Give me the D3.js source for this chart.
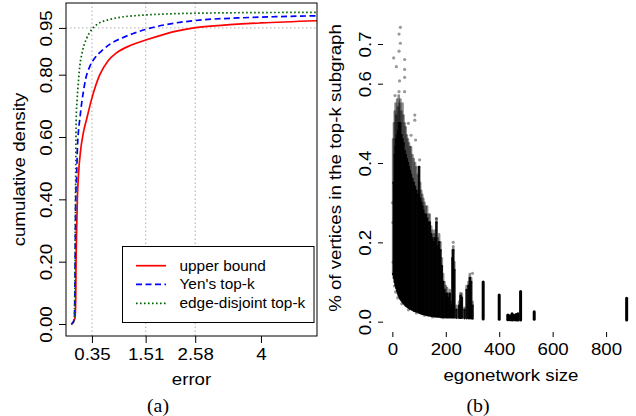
<!doctype html>
<html>
<head>
<meta charset="utf-8">
<title>CDF of error and top-k subgraph share</title>
<style type="text/css">
body { margin: 0; background: #fff; }
svg { display: block; }
text { font-family: "Liberation Sans", Arial, Helvetica, sans-serif; fill: #000; }
.cap { font-family: "Liberation Serif", "Times New Roman", serif; }
</style>
<script src="https://cdnjs.cloudflare.com/ajax/libs/d3/7.8.5/d3.min.js"></script>
</head>
<body>
<script type="text/javascript">
// ---- panel (a): cumulative density of the error ----
var xTicksA = [0.35, 1.51, 2.58, 4];
var xTickLabelsA = ["0.35", "1.51", "2.58", "4"];
var yTicksA = [0, 0.2, 0.4, 0.6, 0.8, 0.95];
var yTickLabelsA = ["0.00", "0.20", "0.40", "0.60", "0.80", "0.95"];
var gridXA = [0.35, 1.51, 2.58];
var gridYA = [0.95];

var seriesNames = ["upper bound", "Yen's top-k", "edge-disjoint top-k"];

var errUpper = [-0.10, -0.06, -0.015, 0.0, 0.006, 0.02, 0.035, 0.06, 0.1, 0.16, 0.24, 0.34, 0.52, 0.7, 0.88, 1.2, 1.53, 2.17, 2.59, 3.2, 4.0, 5.21];
var cdfUpper = [0, 0.004, 0.02, 0.08, 0.18, 0.30, 0.40, 0.48, 0.55, 0.61, 0.66, 0.72, 0.80, 0.845, 0.87, 0.895, 0.912, 0.940, 0.951, 0.959, 0.966, 0.973];

var errYen = [-0.10, -0.06, -0.03, -0.02, -0.01, 0.0, 0.02, 0.035, 0.06, 0.09, 0.13, 0.17, 0.22, 0.3, 0.42, 0.55, 0.74, 1.0, 1.24, 1.5, 1.96, 2.67, 3.5, 4.3, 5.21];
var cdfYen = [0, 0.004, 0.02, 0.08, 0.25, 0.40, 0.48, 0.56, 0.62, 0.66, 0.71, 0.75, 0.79, 0.825, 0.855, 0.875, 0.898, 0.918, 0.932, 0.945, 0.961, 0.975, 0.982, 0.986, 0.989];

var errDisj = [-0.10, -0.06, -0.03, -0.02, -0.01, 0.0, 0.01, 0.03, 0.06, 0.09, 0.13, 0.18, 0.24, 0.3, 0.38, 0.5, 0.7, 1.0, 1.45, 2.0, 3.0, 5.21];
var cdfDisj = [0, 0.004, 0.02, 0.10, 0.30, 0.50, 0.66, 0.72, 0.78, 0.83, 0.865, 0.895, 0.918, 0.935, 0.951, 0.965, 0.976, 0.985, 0.991, 0.995, 0.998, 1.0];

// ---- panel (b): share of vertices vs egonetwork size ----
var xTicksB = [0, 200, 400, 600, 800];
var yTicksB = [0, 0.2, 0.4, 0.6, 0.7];
var yTickLabelsB = ["0.0", "0.2", "0.4", "0.6", "0.7"];

// dense part: for each size, lowest value, top of the solid black part, highest value
var egoX    = [3, 6, 9, 12, 15, 18, 21, 24, 27, 30, 34, 38, 42, 46, 50, 54, 58, 62, 66, 70, 75, 80, 85, 90, 95, 100, 104, 108, 112, 116, 120, 125, 130, 135, 140, 145, 150, 155, 160, 165, 170, 175, 180, 185, 190, 195, 200, 205, 210, 215, 220, 225, 228, 232, 240, 250, 255, 260, 270, 278, 285, 290, 295, 300];
var egoLow  = [0.12, 0.11, 0.10, 0.092, 0.085, 0.078, 0.072, 0.066, 0.062, 0.058, 0.054, 0.050, 0.047, 0.044, 0.041, 0.039, 0.037, 0.035, 0.033, 0.032, 0.030, 0.028, 0.027, 0.026, 0.025, 0.023, 0.022, 0.021, 0.020, 0.020, 0.019, 0.018, 0.017, 0.016, 0.016, 0.015, 0.015, 0.014, 0.014, 0.013, 0.013, 0.013, 0.012, 0.012, 0.012, 0.012, 0.011, 0.011, 0.011, 0.011, 0.011, 0.011, 0.011, 0.011, 0.010, 0.010, 0.010, 0.010, 0.009, 0.009, 0.009, 0.009, 0.009, 0.008];
var egoCore = [0.12, 0.35, 0.42, 0.44, 0.46, 0.47, 0.48, 0.50, 0.49, 0.50, 0.47, 0.46, 0.45, 0.43, 0.42, 0.41, 0.40, 0.39, 0.38, 0.37, 0.36, 0.35, 0.34, 0.33, 0.32, 0.39, 0.31, 0.30, 0.29, 0.28, 0.27, 0.27, 0.26, 0.25, 0.25, 0.22, 0.21, 0.20, 0.21, 0.25, 0.19, 0.20, 0.18, 0.14, 0.10, 0.08, 0.07, 0.07, 0.06, 0.07, 0.04, 0.16, 0.18, 0.13, 0.03, 0.04, 0.065, 0.06, 0.03, 0.08, 0.09, 0.11, 0.10, 0.04];
var egoHigh = [0.46, 0.50, 0.53, 0.55, 0.52, 0.56, 0.54, 0.57, 0.55, 0.56, 0.53, 0.55, 0.52, 0.50, 0.49, 0.47, 0.46, 0.45, 0.44, 0.44, 0.42, 0.41, 0.40, 0.39, 0.37, 0.39, 0.35, 0.33, 0.32, 0.31, 0.30, 0.29, 0.29, 0.27, 0.27, 0.24, 0.23, 0.22, 0.23, 0.26, 0.21, 0.22, 0.20, 0.16, 0.12, 0.10, 0.09, 0.085, 0.07, 0.08, 0.05, 0.18, 0.19, 0.15, 0.04, 0.05, 0.072, 0.07, 0.035, 0.09, 0.10, 0.12, 0.11, 0.05];

// isolated streaks at larger sizes
var farX    = [340, 400, 432, 440, 448, 455, 463, 470, 480, 531, 877];
var farLow  = [0.007, 0.006, 0.005, 0.005, 0.004, 0.005, 0.004, 0.004, 0.004, 0.006, 0.004];
var farHigh = [0.10, 0.067, 0.017, 0.015, 0.020, 0.016, 0.018, 0.020, 0.076, 0.025, 0.059];

// single points away from the dense part
var ptX = [30, 25, 30, 25, 5, 46, 15, 46, 27, 46, 46, 25, 84, 84, 87, 102, 2, 1, 4, 3, 8, 12, 20, 35, 60, 90, 120, 150, 190, 165, 300, 228, 60, 70, 10];
var ptY = [0.742, 0.725, 0.702, 0.682, 0.665, 0.661, 0.643, 0.636, 0.607, 0.616, 0.58, 0.58, 0.521, 0.508, 0.458, 0.408, 0.25, 0.30, 0.35, 0.15, 0.09, 0.075, 0.06, 0.045, 0.03, 0.022, 0.016, 0.012, 0.010, 0.26, 0.122, 0.20, 0.50, 0.47, 0.57];

var width = 636, height = 416;
var svg = d3.select("body").append("svg")
	.attr("width", width)
	.attr("height", height);

// text is drawn a little wide, like the reference
function label(g, x, y, s, rot, size, cls) {
	return g.append("text")
		.attr("class", cls || null)
		.attr("transform", "translate(" + x + "," + y + ")" + (rot ? " rotate(-90)" : "") + " scale(1.1,1)")
		.attr("text-anchor", "middle")
		.style("font-size", size + "px")
		.text(s);
}

// ===== panel (a) =====
var xA = d3.scaleLinear().domain([-0.21, 5.21]).range([66, 317]);
var yA = d3.scaleLinear().domain([-0.0385, 1.03]).range([336, 3]);

var gA = svg.append("g");

gA.selectAll(".gridx").data(gridXA).enter().append("line")
	.attr("x1", function(d) { return xA(d); })
	.attr("x2", function(d) { return xA(d); })
	.attr("y1", yA.range()[0]).attr("y2", yA.range()[1])
	.style("stroke", "#bebebe").style("stroke-width", 1.3).style("stroke-dasharray", "1.5,2.5");
gA.selectAll(".gridy").data(gridYA).enter().append("line")
	.attr("x1", xA.range()[0]).attr("x2", xA.range()[1])
	.attr("y1", function(d) { return yA(d); })
	.attr("y2", function(d) { return yA(d); })
	.style("stroke", "#bebebe").style("stroke-width", 1.3).style("stroke-dasharray", "1.5,2.5");

var lineA = d3.line()
	.curve(d3.curveMonotoneX)
	.x(function(d) { return xA(d[0]); })
	.y(function(d) { return yA(d[1]); });

var curves = [
	{ x: errUpper, y: cdfUpper, color: "#ff0000", dash: null },
	{ x: errYen, y: cdfYen, color: "#0000ff", dash: "6,3.5" },
	{ x: errDisj, y: cdfDisj, color: "#006400", dash: "1.6,2.4" }
];

gA.selectAll(".curve").data(curves).enter().append("path")
	.attr("d", function(c) { return lineA(d3.zip(c.x, c.y)); })
	.style("fill", "none")
	.style("stroke", function(c) { return c.color; })
	.style("stroke-width", 1.7)
	.style("stroke-dasharray", function(c) { return c.dash; });

// axes
var axA = gA.append("g").attr("transform", "translate(0,336)")
	.call(d3.axisBottom(xA).tickValues(xTicksA).tickSize(7).tickSizeOuter(0)
		.tickFormat(function(d, i) { return xTickLabelsA[i]; }));
var ayA = gA.append("g").attr("transform", "translate(66,0)")
	.call(d3.axisLeft(yA).tickValues(yTicksA).tickSize(7).tickSizeOuter(0)
		.tickFormat(function(d, i) { return yTickLabelsA[i]; }));

[axA, ayA].forEach(function(ax) {
	ax.select(".domain").remove();
	ax.attr("font-family", null).attr("font-size", null);
	ax.selectAll("line").style("stroke", "#000");
});
axA.selectAll("text").attr("y", null).attr("dy", null)
	.attr("transform", "translate(0,24) scale(1.1,1)").style("font-size", "17px");
ayA.selectAll("text").attr("x", null).attr("dy", null).attr("text-anchor", "middle")
	.attr("transform", "translate(-14.5,0) rotate(-90) scale(1.1,1)").style("font-size", "17px");

gA.append("rect")
	.attr("x", 66).attr("y", 3).attr("width", 251).attr("height", 333)
	.style("fill", "none").style("stroke", "#000").style("stroke-width", 1);

label(gA, 191.5, 385, "error", false, 17);
label(gA, 25, 169.5, "cumulative density", true, 17);

// legend
var leg = gA.append("g");
leg.append("rect")
	.attr("x", 122.5).attr("y", 246.5).attr("width", 191.5).attr("height", 76)
	.style("fill", "#fff").style("stroke", "#000").style("stroke-width", 1);
var rowsY = [265.7, 284.3, 303.3];
var legRows = leg.selectAll(".row").data(curves).enter().append("g");
legRows.append("line")
	.attr("x1", 136).attr("x2", 166)
	.attr("y1", function(c, i) { return rowsY[i]; })
	.attr("y2", function(c, i) { return rowsY[i]; })
	.style("stroke", function(c) { return c.color; })
	.style("stroke-width", 1.7)
	.style("stroke-dasharray", function(c) { return c.dash; });
legRows.append("text")
	.attr("transform", function(c, i) { return "translate(179.5," + (rowsY[i] + 5) + ") scale(1.1,1)"; })
	.style("font-size", "14px")
	.text(function(c, i) { return seriesNames[i]; });

label(gA, 158, 412, "(a)", false, 18, "cap");

// ===== panel (b) =====
var xB = d3.scaleLinear().domain([-35, 912]).range([383, 636]);
var yB = d3.scaleLinear().domain([-0.026, 0.7757]).range([332, 14]);

var gB = svg.append("g");

gB.selectAll(".fringe").data(egoX).enter().append("line")
	.attr("x1", function(d) { return xB(d); })
	.attr("x2", function(d) { return xB(d); })
	.attr("y1", function(d, i) { return yB(egoCore[i]); })
	.attr("y2", function(d, i) { return yB(egoHigh[i]); })
	.style("stroke", "#000").style("stroke-opacity", 0.45)
	.style("stroke-width", 2.6).style("stroke-linecap", "round");

gB.selectAll(".core").data(egoX).enter().append("line")
	.attr("x1", function(d) { return xB(d); })
	.attr("x2", function(d) { return xB(d); })
	.attr("y1", function(d, i) { return yB(egoLow[i]); })
	.attr("y2", function(d, i) { return yB(egoCore[i]); })
	.style("stroke", "#000").style("stroke-opacity", 0.95)
	.style("stroke-width", 2.6).style("stroke-linecap", "round");

gB.selectAll(".far").data(farX).enter().append("line")
	.attr("x1", function(d) { return xB(d); })
	.attr("x2", function(d) { return xB(d); })
	.attr("y1", function(d, i) { return yB(farLow[i]); })
	.attr("y2", function(d, i) { return yB(farHigh[i]); })
	.style("stroke", "#000").style("stroke-width", 3).style("stroke-linecap", "round");

gB.selectAll(".pt").data(ptX).enter().append("circle")
	.attr("cx", function(d) { return xB(d); })
	.attr("cy", function(d, i) { return yB(ptY[i]); })
	.attr("r", 1.6)
	.style("fill", "#000").style("fill-opacity", 0.4);

var axB = gB.append("g").attr("transform", "translate(0,332)")
	.call(d3.axisBottom(xB).tickValues(xTicksB).tickSize(5).tickSizeOuter(0));
var ayB = gB.append("g").attr("transform", "translate(383,0)")
	.call(d3.axisLeft(yB).tickValues(yTicksB).tickSize(5).tickSizeOuter(0)
		.tickFormat(function(d, i) { return yTickLabelsB[i]; }));

[axB, ayB].forEach(function(ax) {
	ax.select(".domain").remove();
	ax.attr("font-family", null).attr("font-size", null);
	ax.selectAll("line").style("stroke", "#000");
});
axB.selectAll("text").attr("y", null).attr("dy", null)
	.attr("transform", "translate(0,23) scale(1.1,1)").style("font-size", "17px");
ayB.selectAll("text").attr("x", null).attr("dy", null).attr("text-anchor", "middle")
	.attr("transform", "translate(-12,0) rotate(-90) scale(1.1,1)").style("font-size", "17px");

label(gB, 511, 381, "egonetwork size", false, 17);
label(gB, 340.5, 168, "% of vertices in the top-k subgraph", true, 17);
label(gB, 478, 412, "(b)", false, 18, "cap");
</script>
</body>
</html>
